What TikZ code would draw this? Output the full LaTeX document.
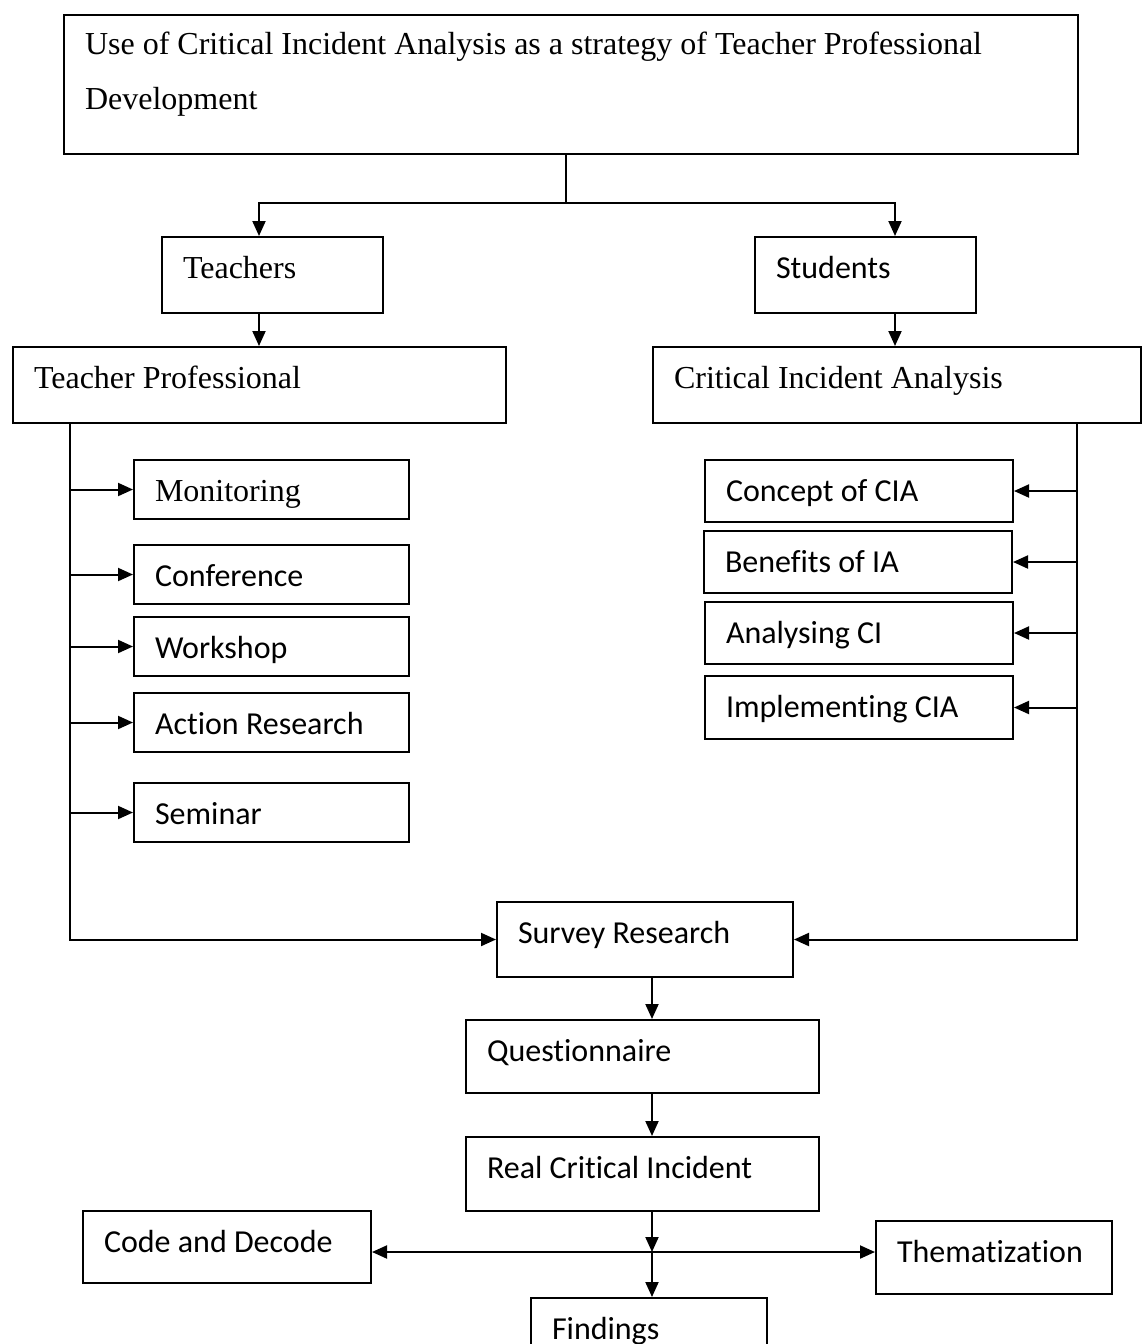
\documentclass[tikz,border=0pt]{standalone}
\usepackage{fontspec}
\setmainfont{Liberation Serif}
\newfontfamily\carlito[Ligatures=NoCommon]{Carlito}
\usetikzlibrary{arrows.meta,positioning}

\tikzset{
  box/.style={draw,line width=1pt,anchor=north west,inner xsep=10.5pt,
              inner ysep=0pt,align=flush left,text height=20.5pt},
  rm/.style={font=\fontsize{16}{27.5}\selectfont},
  sf/.style={font=\carlito\fontsize{16}{27.5}\selectfont},
  arr/.style={line width=1pt,-{Triangle[length=7.5pt,width=6.5pt]}},
  twoarr/.style={line width=1pt,{Triangle[length=7.5pt,width=6.5pt]}-{Triangle[length=7.5pt,width=6.5pt]}},
}

\begin{document}
\begin{tikzpicture}[x=0.5pt,y=-0.5pt]

  \useasboundingbox[fill=white] (0,0) rectangle (1141,1344);
%
  \node[box,rm,text height=19.5pt,text depth=50pt] (top) at (63,14)
    {\parbox[t]{486pt}{Use of Critical Incident Analysis as a strategy of Teacher Professional\\Development}};
%
  \node[box,rm,text width=89.5pt,text depth=17.5pt] (teach) at (161,236) {Teachers};
  \node[box,sf,text width=89.5pt,text depth=17.5pt] (stud) at (754,236) {Students};
  \node[box,rm,text width=225.5pt,text depth=17.5pt] (tprof) at (12,346) {Teacher Professional};
  \node[box,rm,text width=223pt,text depth=17.5pt] (cia) at (652,346) {Critical Incident Analysis};
%
  \node[box,rm,text width=116.5pt,text depth=9pt] (mon) at (133,459) {Monitoring};
  \node[box,sf,text width=116.5pt,text depth=9pt] (conf) at (133,544) {Conference};
  \node[box,sf,text width=116.5pt,text depth=9pt] (work) at (133,616) {Workshop};
  \node[box,sf,text width=116.5pt,text depth=9pt] (act) at (133,692) {Action Research};
  \node[box,sf,text width=116.5pt,text depth=9pt] (sem) at (133,782) {Seminar};
%
  \node[box,sf,text width=133pt,text depth=10.5pt] (conc) at (704,459) {Concept of CIA};
  \node[box,sf,text width=133pt,text depth=10.5pt] (ben) at (703,530) {Benefits of IA};
  \node[box,sf,text width=133pt,text depth=10.5pt] (ana) at (704,601) {Analysing CI};
  \node[box,sf,text width=133pt,text depth=11pt] (impl) at (704,675) {Implementing CIA};
%
  \node[box,sf,text width=127pt,text depth=17pt] (surv) at (496,901) {Survey Research};
  \node[box,sf,text width=155.5pt,text depth=16pt] (quest) at (465,1019) {Questionnaire};
  \node[box,sf,text width=155.5pt,text depth=16.5pt] (rci) at (465,1136) {Real Critical Incident};
  \node[box,sf,text width=123pt,text depth=15.5pt] (code) at (82,1210) {Code and Decode};
  \node[box,sf,text width=97pt,text depth=16pt] (them) at (875,1220) {Thematization};
  \node[box,sf,text width=97pt,text depth=17pt] (find) at (530,1297) {Findings};
%
  \coordinate (split) at (566,203);
  \coordinate (tl) at (259,203);
  \coordinate (sl) at (895,203);
  \coordinate (lt) at (70,422);
  \coordinate (rt) at (1077,422);
  \coordinate (mid) at (652,1252);

  \draw [line width=0.6pt] (split |- top.south) -- (split);
  \draw [arr] (split) -- (tl) -- (tl |- teach.north);
  \draw [arr] (split) -- (sl) -- (sl |- stud.north);
  \draw [arr] (tl |- teach.south) -- (tl |- tprof.north);
  \draw [arr] (sl |- stud.south) -- (sl |- cia.north);

  \draw [arr] (lt |- tprof.south) -- (lt |- surv.west) -- (surv.west);
  \draw [arr] (lt |- mon.west) -- (mon.west);
  \draw [arr] (lt |- conf.west) -- (conf.west);
  \draw [arr] (lt |- work.west) -- (work.west);
  \draw [arr] (lt |- act.west) -- (act.west);
  \draw [arr] (lt |- sem.west) -- (sem.west);

  \draw [arr] (rt |- cia.south) -- (rt |- surv.east) -- (surv.east);
  \draw [arr] (rt |- conc.east) -- (conc.east);
  \draw [arr] (rt |- ben.east) -- (ben.east);
  \draw [arr] (rt |- ana.east) -- (ana.east);
  \draw [arr] (rt |- impl.east) -- (impl.east);

  \draw [arr] (mid |- surv.south) -- (mid |- quest.north);
  \draw [arr] (mid |- quest.south) -- (mid |- rci.north);
  \draw [arr] (mid |- rci.south) -- (mid);
  \draw [twoarr] (mid -| code.east) -- (mid -| them.west);
  \draw [arr] (mid) -- (mid |- find.north);

\end{tikzpicture}
\end{document}
